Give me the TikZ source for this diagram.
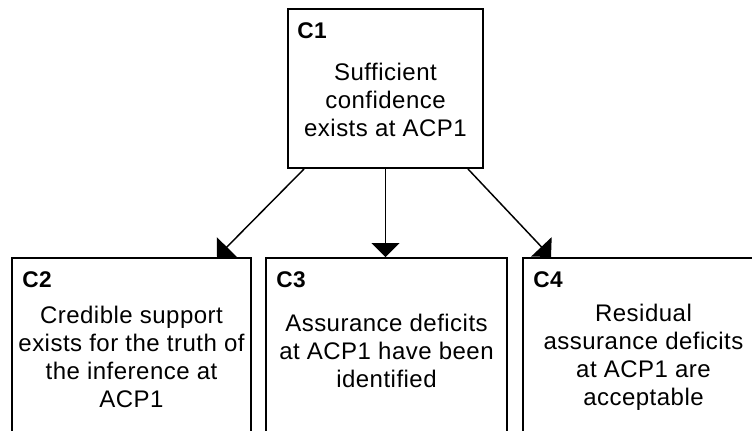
\documentclass[tikz,border=0pt]{standalone}
\usepackage{fontspec}
\setmainfont{Liberation Sans}[LetterSpace=2]
\usetikzlibrary{arrows.meta,calc}

\begin{document}
\begin{tikzpicture}[x=0.75pt,y=-0.75pt,
  box/.style={draw=black, line width=1.5pt, fill=white, inner sep=0pt},
  tag/.style={font=\fontsize{17}{20}\selectfont\bfseries, anchor=west, inner sep=0pt},
  body/.style={font=\fontsize{18}{21}\selectfont, align=center, inner sep=0pt},
  link/.style={line width=1.1pt, -{Triangle[width=21pt,length=10.5pt]}}]

\clip (0,0) rectangle (752,430);

% claim boxes (the lower row runs past the page edge)
\node[box, minimum width=146.25pt, minimum height=119.25pt] (c1) at (385.5,88.5) {};
\node[box, minimum width=179.25pt, minimum height=151.5pt] (c2) at (131.5,359) {};
\node[box, minimum width=180.75pt, minimum height=151.5pt] (c3) at (386.5,359) {};
\node[box, minimum width=180.75pt, minimum height=151.5pt] (c4) at (643.5,359) {};

% identifiers
\node[tag] at ($(c1.north west)+(10,23)$) {C1};
\node[tag] at ($(c2.north west)+(11,23)$) {C2};
\node[tag] at ($(c3.north west)+(11,23)$) {C3};
\node[tag] at ($(c4.north west)+(11,23)$) {C4};

% statements
\node[body] at ($(c1.north)+(0,92)$) {Sufficient\\confidence\\exists at ACP1};
\node[body] at ($(c2.north)+(0,100)$) {Credible support\\exists for the truth of\\the inference at\\ACP1};
\node[body] at ($(c3.north)+(0,94)$) {Assurance deficits\\at ACP1 have been\\identified};
\node[body] at ($(c4.north)+(0,100)$) {Residual\\assurance deficits\\at ACP1 are\\acceptable};

% decomposition links
\draw[link] ([xshift=12.75pt]c1.south west) -- ([xshift=154.5pt]c2.north west);
\draw[link] (c1.south) -- (c1.south |- c3.north);
\draw[link] ([xshift=-12pt]c1.south east) -- ([xshift=21.75pt]c4.north west);
\end{tikzpicture}
\end{document}
